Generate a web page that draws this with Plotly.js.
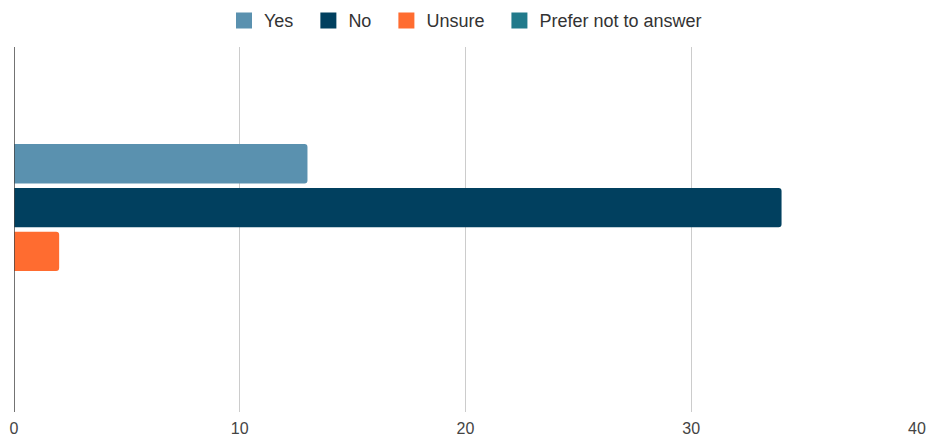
<!DOCTYPE html>
<html>
<head>
<meta charset="utf-8">
<script src="https://cdn.plot.ly/plotly-3.0.1.min.js"></script>
<style>html,body{margin:0;padding:0;background:#fff;}#chart{width:928px;height:438px;}</style>
</head>
<body>
<div id="chart"></div>
<script>
const categories = ["Response"];
const seriesNames = ["Yes", "No", "Unsure", "Prefer not to answer"];
const yesValues = [13];
const noValues = [34];
const unsureValues = [2];
const preferValues = [0];
const xTickValues = [0, 10, 20, 30, 40];
const colors = ["#5a91af", "#01405f", "#ff6c30", "#217a8b"];

const seriesValues = [yesValues, noValues, unsureValues, preferValues];
const barTraces = seriesNames.map((name, i) => ({
  type: "bar",
  orientation: "h",
  name: name,
  legendgroup: name,
  showlegend: false,
  y: categories,
  x: seriesValues[i],
  marker: {color: colors[i], line: {width: 0}},
  hoverinfo: "skip"
}));
// legend proxies (square swatches); non-breaking spaces widen item spacing
const pad = "\u00a0\u00a0";
const legendTraces = seriesNames.map((name, i) => ({
  type: "scatter",
  mode: "markers",
  name: i < seriesNames.length - 1 ? name + pad : name,
  legendgroup: name,
  showlegend: true,
  x: [null],
  y: [null],
  marker: {symbol: "square", size: 16, color: colors[i], line: {width: 0}},
  hoverinfo: "skip"
}));

const layout = {
  width: 928,
  height: 438,
  margin: {l: 14, r: 11, t: 47, b: 26},
  paper_bgcolor: "#fff",
  plot_bgcolor: "#fff",
  font: {family: "Liberation Sans, Arial, sans-serif", color: "#333", size: 14},
  barmode: "group",
  bargap: 0.52,
  bargroupgap: 0.1,
  barcornerradius: 3,
  showlegend: true,
  legend: {
    orientation: "h",
    x: 0.5, xanchor: "center",
    y: 0.995, yanchor: "top",
    yref: "container",
    itemsizing: "trace",
    font: {size: 18, color: "#333"},
    traceorder: "normal"
  },
  xaxis: {
    range: [0, 40],
    tickvals: xTickValues,
    ticktext: xTickValues.map(String),
    showgrid: true,
    gridcolor: "#cccccc",
    gridwidth: 1,
    zeroline: false,
    showline: false,
    ticks: "",
    ticklabelstandoff: 5,
    tickfont: {size: 16, color: "#444"},
    fixedrange: true
  },
  yaxis: {
    type: "category",
    autorange: "reversed",
    showticklabels: false,
    showgrid: false,
    zeroline: false,
    showline: false,
    ticks: "",
    fixedrange: true
  },
  shapes: [{
    type: "line", xref: "x", yref: "paper",
    x0: 0, x1: 0, y0: 0, y1: 1,
    line: {color: "#444", width: 1.5}
  }]
};

Plotly.newPlot("chart", barTraces.concat(legendTraces), layout, {displayModeBar: false, staticPlot: true});
</script>
</body>
</html>
